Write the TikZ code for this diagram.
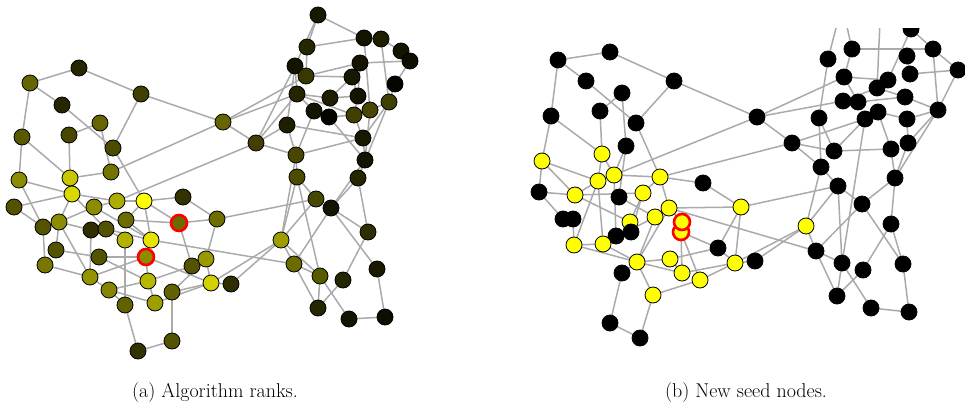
\documentclass[tikz,border=0pt]{standalone}
\usepackage{tikz}
\definecolor{edgegray}{RGB}{170,170,170}
\definecolor{ylw}{RGB}{255,255,0}
\definecolor{blk}{RGB}{0,0,0}
\definecolor{ringred}{RGB}{255,0,0}
\tikzset{
  hold/.style={circle, minimum size=16pt, inner sep=0pt},
  ed/.style={draw=edgegray, line width=1.5pt},
  dot/.style={draw=blk!100, line width=0.8pt},
  seedring/.style={draw=ringred, line width=2.6pt},
  captext/.style={font=\fontsize{20}{24}\selectfont, inner sep=0pt}
}
\def\leftnodes{A1/79/68/15, A2/30/83/40, A3/62/105/15, A4/141/94/25, A5/223/122/40, A6/100/123/40, A7/69/135/28, A8/22/137/35, A9/113/148/30, A10/111/172/45, A11/70/178/78, A12/19/180/55,
B1/72/194/85, B2/14/207/32, B3/94/207/55, B4/117/201/68, B5/144/201/100, B6/183/197/20, B7/43/227/33, B8/59/222/55, B9/91/230/18, B10/106/229/32, B11/126/220/42, R1/179/223/42, B12/217/219/43, B13/125/240/70, B14/151/240/90, B15/56/250/33, B16/99/257/33, R2/146/257/55, B17/45/265/47, B18/192/266/33, B19/206/259/60, B20/90/277/58, B21/148/281/72, B22/211/283/82, B23/231/284/18, B24/109/290/52, B25/172/292/38, B26/125/305/38, B27/155/303/62, B28/172/341/33, B29/138/351/20,
C1/318/15/10, C2/364/38/8, C3/381/39/12, C4/307/47/15, C5/401/51/8, C6/410/61/5, C7/295/66/8, C8/360/63/8, C9/306/76/22, C10/352/77/10, C11/395/84/2, C12/297/94/14, C13/330/98/12, C14/358/96/8, C15/389/102/25, C16/314/111/8, C17/329/117/2, C18/354/115/25, C19/370/110/28, C20/287/125/12, C21/256/143/25, C22/363/138/10, C23/296/155/28, C24/365/160/8, C25/297/177/30, C26/358/178/15,
D1/316/199/28, D2/331/208/8, D3/368/232/18, D4/281/240/62, D5/294/264/42, D6/320/276/35, D7/343/280/15, D8/377/269/10, D9/318/308/15, D10/349/319/8, D11/385/317/5}
\def\leftedges{A1/A2, A1/A4, A2/A3, A3/A9, A4/A5, A4/A9, A2/A8, A8/A12, A8/A11, A7/A6, A7/A11, A6/A10, A10/A5, A9/B5, A11/A10, A11/B1, A12/B1, B2/B1, A12/B7, B2/B7,
B1/B8, B1/B4, B4/B5, B3/B8, B3/B4, B8/B9, B8/B15, B8/B20, B7/B17, B9/B10, B9/B20, B10/B13, B11/B5, B11/R1, B11/B14, B5/R1, B5/B14, B5/B6, B6/B12, R1/B12, R1/B18, B12/B19, R2/B14, R2/B21, R2/B22, R2/B20, R2/B16, B15/B16, B17/B20, B20/B24, B24/B21, B24/B27, B24/B26, B21/B27, B25/B22, B25/B19, B25/B28, B27/B22, B26/B29, B28/B29, B18/B21, B22/B23, B22/B19, B13/B26, B10/B14, B1/B10, B3/B14, B16/B21, B4/C21, A5/C9, A5/C12, A5/C21, B12/D1, B14/D5, D4/B22, D4/B23,
C1/C2, C1/C4, C1/C7, C2/C3, C3/C5, C5/C6, C2/C4, C2/C19, C3/C15, C8/C6, C9/C8, C7/C9, C6/C11, C11/C15, C9/C10, C10/C14, C4/C9, C7/C12, C7/C20, C12/C13, C12/C16, C12/C18, C13/C14, C13/C10, C8/C14, C14/C18, C16/C17, C17/C18, C18/C19, C19/C15, C18/C22, C19/C24, C15/C22, C15/C26, C22/C24, C24/C26, C20/C23, C21/C23, C21/C12, C21/C7, C21/C20, C20/C22, C23/C25, C23/C22, C16/C23, C17/C24, C25/D1, C25/D4, C23/D4, C25/D6, C26/D2, C24/D2, C26/D3, D2/D3, D2/D8, D3/D7, D8/D11, D10/D11, D6/D10, D6/D9, D9/D7, D6/D5, D4/D5, D4/D6, D5/D9, D2/D5, D1/D4}
\def\rightnodes{r1/558/60/0, r2/610/52/0, r3/586/81/0, r4/674/81/0, r5/622/93/0, r6/600/111/0, r7/551/116/0, r8/636/123/0, r9/757/117/0, r10/626/146/0, r11/602/154/100, r12/542/161/100, r13/614/175/100, r14/598/181/100, r15/660/177/100, r16/703/183/0, r17/539/192/0, r18/575/195/100, r19/619/197/0, r20/643/193/100, r21/669/208/100, r22/655/217/100, r23/741/207/100, r24/563/219/0, r25/573/219/0, r26/630/222/100, r28/681/232/100, r27/682/222/100, r29/616/236/0, r30/631/232/0, r31/574/245/100, r32/603/244/100, r33/718/248/0, r34/637/262/100, r35/670/259/100, r36/735/263/100, r37/755/261/0, r38/622/273/0, r39/682/273/100, r40/700/280/100, r41/653/295/100, r42/610/323/0, r43/640/338/0,
s1/911/29/0, s2/852/49/0, s3/828/59/0, s4/933/49/0, s5/907/56/0, s6/958/70/0, s7/844/77/0, s8/910/74/0, s9/888/80/0, s10/877/88/0, s11/905/97/0, s12/843/101/0, s13/858/102/0, s14/819/118/0, s15/878/112/0, s16/865/119/0, s17/907/119/0, s18/938/110/0, s19/792/143/0, s20/834/151/0, s21/891/149/0, s22/908/143/0, s23/821/167/0, s24/895/178/0, s25/838/186/0, s26/862/204/0, s27/806/226/100, s28/891/224/0, s29/816/251/0, s31/842/263/0, s32/863/270/0, s33/903/264/0, s34/837/296/0, s35/871/308/0, s36/909/312/0}
\def\rightedges{r1/r2, r2/r4, r1/r3, r3/r8, r4/r8, r4/r9, r1/r7, r5/r6, r6/r11, r7/r12, r7/r11, r5/r10, r8/r15, r10/r13, r13/r9, r12/r14, r12/r17, r13/r15, r15/s19, r11/r14, r11/r13, r12/r18, r17/r18, r17/r24, r14/r18, r14/r31, r13/r29, r15/r20, r15/r21, r15/r16, r16/r23, r18/r20, r19/r22, r20/r26, r21/r27, r21/r23, r21/s29, r21/r34, r22/r32, r22/r34, r28/r39, r28/r40, r28/r33, r33/r36, r33/r35, r23/r36, r23/r33, r36/r37, r36/r40, r36/r39, r35/r34, r35/r39, r34/r41, r41/r40, r34/r38, r34/r31, r34/r39, r32/r31, r32/r29, r32/r34, r25/r31, r38/r42, r42/r43, r43/r41, r26/r30, r29/r30, r30/r20, r14/r32, r18/r26, r27/r28, r10/r19, r24/r25,
r23/s25, r36/s27, r37/s27, r9/s12, r9/s7, r9/s19,
h1/s3, h1/s2, h2/s10, s1/s4, s1/s9, s2/s4, s2/s7, s3/s14, s4/s6, s4/s18, s6/s18, s5/s8, s7/s9, s8/s6, s7/s13, s9/s10, s10/s12, s11/s10, s11/s18, s12/s13, s13/s11, s14/s20, s14/s23, s19/s16, s19/s20, s19/s23, s20/s21, s20/s16, s23/s25, s15/s16, s15/s17, s16/s31, s15/s21, s17/s22, s17/s18, s18/s22, s18/s24, s22/s24, s21/s24, s24/s26, s24/s28, s25/s26, s27/s23, s27/s25, s26/s29, s26/s33, s28/s33, s28/s32, s27/s29, s29/s31, s29/s34, s25/s31, s31/s34, s31/s35, s32/s34, s35/s36, s33/s36}
\begin{document}
\begin{tikzpicture}[x=1pt,y=-1pt]
\useasboundingbox (0,0) rectangle (965,409);
% ---------- panel (a)
\foreach \n/\x/\y/\v in \leftnodes {\node[hold] (L\n) at (\x,\y) {};}
\foreach \a/\b in \leftedges {\draw[ed] (L\a) -- (L\b);}
\foreach \n/\x/\y/\v in \leftnodes {\draw[dot, fill=ylw!\v!blk] (L\n.center) circle[radius=8pt];}
\draw[seedring, fill=ylw!42!blk] (LR1.center) circle[radius=8pt];
\draw[seedring, fill=ylw!55!blk] (LR2.center) circle[radius=8pt];
% ---------- panel (b)
\begin{scope}
\clip (515,29) rectangle (965,409);
\coordinate (Rh1) at (842,5);
\coordinate (Rh2) at (881,0);
\foreach \n/\x/\y/\v in \rightnodes {\node[hold] (R\n) at (\x,\y) {};}
\foreach \a/\b in \rightedges {\draw[ed] (R\a) -- (R\b);}
\foreach \n/\x/\y/\v in \rightnodes {\draw[dot, fill=ylw!\v!blk] (R\n.center) circle[radius=8pt];}
\draw[seedring, fill=ylw] (Rr28.center) circle[radius=8pt];
\draw[seedring, fill=ylw] (Rr27.center) circle[radius=8pt];
\end{scope}
% ---------- captions
\node[captext] (capa) at (215,393) {(a) Algorithm ranks.};
\node[captext] (capb) at (746,393) {(b) New seed nodes.};
\end{tikzpicture}
\end{document}
